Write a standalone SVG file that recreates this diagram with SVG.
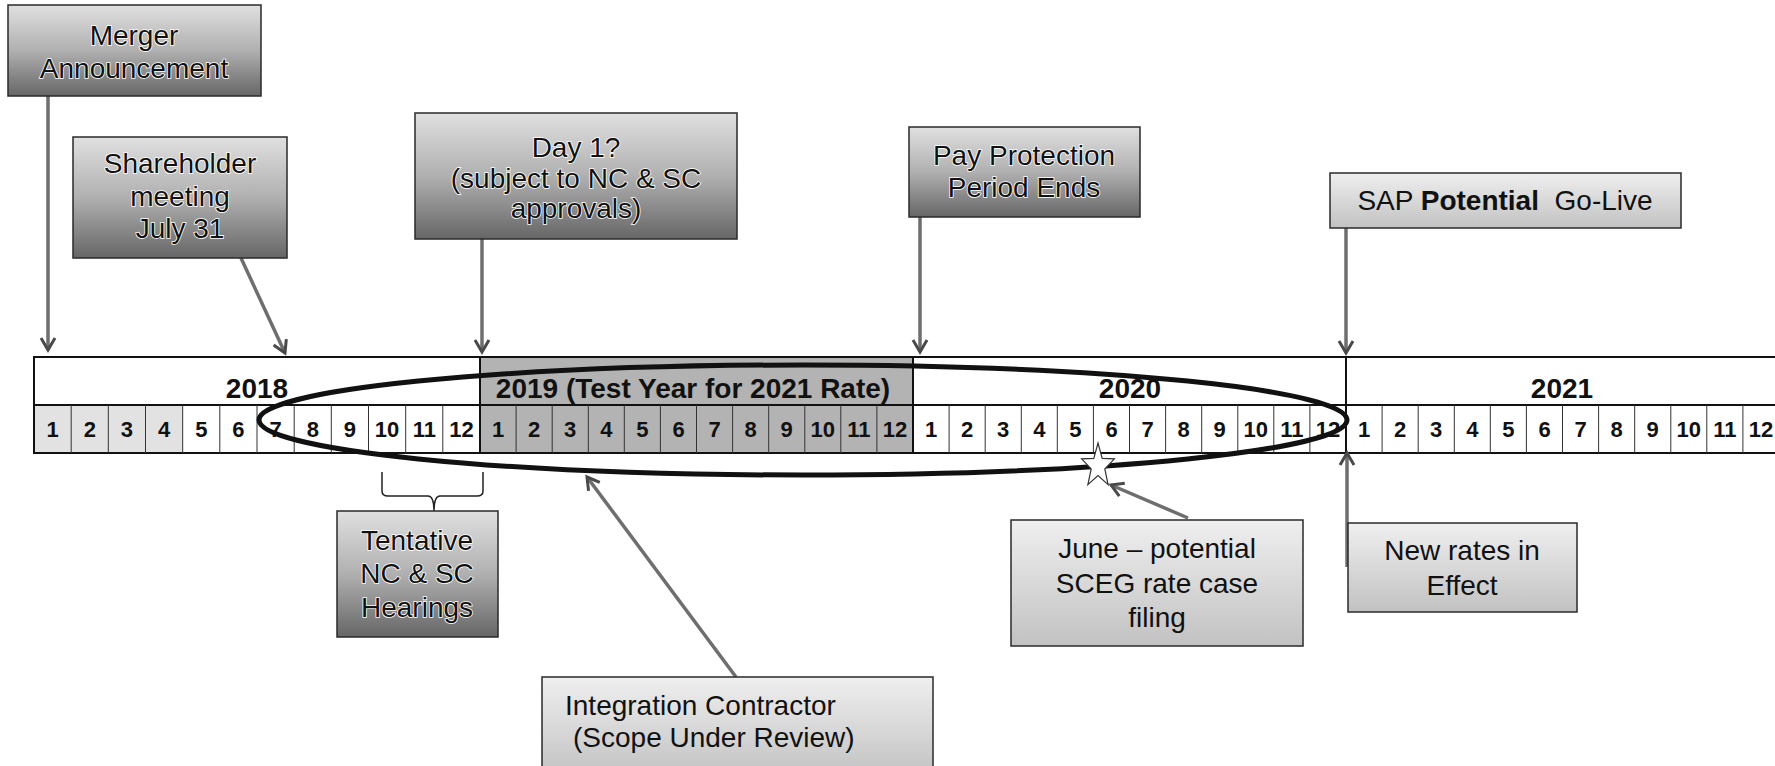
<svg xmlns="http://www.w3.org/2000/svg" width="1775" height="766" viewBox="0 0 1775 766">
<style>
.bx{stroke:#2a2a2a;stroke-width:1.5}
.dk{fill:url(#gDark)}
.lt{fill:url(#gLight)}
.t{font-family:"Liberation Sans",Arial,sans-serif;font-size:28px;fill:#111;text-anchor:middle}
.th{stroke:#fff;stroke-width:1.6;paint-order:stroke}
.yr{font-family:"Liberation Sans",Arial,sans-serif;font-size:28px;font-weight:bold;fill:#111;text-anchor:middle}
.mo{font-family:"Liberation Sans",Arial,sans-serif;font-size:22px;font-weight:bold;fill:#111;text-anchor:middle}
.grid{stroke:#333;stroke-width:1;fill:none}
.edge{stroke:#111;stroke-width:2;fill:none}
.con{stroke:#6e6e6e;stroke-width:3.5;fill:none;marker-end:url(#arr)}
</style>
<defs>
<linearGradient id="gDark" x1="0" y1="0" x2="0" y2="1">
<stop offset="0" stop-color="#e0e0e0"/>
<stop offset="0.5" stop-color="#b0b0b0"/>
<stop offset="1" stop-color="#666"/>
</linearGradient>
<linearGradient id="gLight" x1="0" y1="0" x2="0" y2="1">
<stop offset="0" stop-color="#efefef"/>
<stop offset="1" stop-color="#c2c2c2"/>
</linearGradient>
<marker id="arr" markerUnits="userSpaceOnUse" markerWidth="20" markerHeight="20" refX="14" refY="9" orient="auto">
<path d="M2,2 L14,9 L2,16" fill="none" stroke="#4a4a4a" stroke-width="3"/>
</marker>
</defs>

<g id="timeline">
<rect x="480" y="357" width="433" height="96" fill="#b3b3b3"/>
<rect x="34" y="405" width="149" height="48" fill="#e2e2e2"/>
<rect x="34" y="357" width="1745" height="96" class="edge"/>
<line x1="34" y1="405" x2="1779" y2="405" class="edge"/>
<line x1="480" y1="357" x2="480" y2="453" class="edge"/>
<line x1="913" y1="357" x2="913" y2="453" class="edge"/>
<line x1="1346" y1="357" x2="1346" y2="453" class="edge"/>
<g class="grid">
<path d="M71.2,405V453M108.3,405V453M145.5,405V453M182.7,405V453M219.8,405V453M257,405V453M294.2,405V453M331.3,405V453M368.5,405V453M405.7,405V453M442.8,405V453"/>
<path d="M516.1,405V453M552.2,405V453M588.3,405V453M624.3,405V453M660.4,405V453M696.5,405V453M732.6,405V453M768.7,405V453M804.8,405V453M840.8,405V453M876.9,405V453"/>
<path d="M949.1,405V453M985.2,405V453M1021.3,405V453M1057.3,405V453M1093.4,405V453M1129.5,405V453M1165.6,405V453M1201.7,405V453M1237.8,405V453M1273.8,405V453M1309.9,405V453"/>
<path d="M1382.1,405V453M1418.2,405V453M1454.3,405V453M1490.3,405V453M1526.4,405V453M1562.5,405V453M1598.6,405V453M1634.7,405V453M1670.8,405V453M1706.8,405V453M1742.9,405V453"/>
</g>
<text class="yr" x="257" y="398">2018</text>
<text class="yr" x="693" y="398">2019 (Test Year for 2021 Rate)</text>
<text class="yr" x="1130" y="398">2020</text>
<text class="yr" x="1562" y="398">2021</text>
<g class="mo">
<text x="52.6" y="437">1</text><text x="89.8" y="437">2</text><text x="126.9" y="437">3</text><text x="164.1" y="437">4</text><text x="201.3" y="437">5</text><text x="238.4" y="437">6</text><text x="275.6" y="437">7</text><text x="312.8" y="437">8</text><text x="349.9" y="437">9</text><text x="387.1" y="437">10</text><text x="424.3" y="437">11</text><text x="461.4" y="437">12</text>
<text x="498" y="437">1</text><text x="534.1" y="437">2</text><text x="570.2" y="437">3</text><text x="606.3" y="437">4</text><text x="642.4" y="437">5</text><text x="678.5" y="437">6</text><text x="714.5" y="437">7</text><text x="750.6" y="437">8</text><text x="786.7" y="437">9</text><text x="822.8" y="437">10</text><text x="858.9" y="437">11</text><text x="895" y="437">12</text>
<text x="931" y="437">1</text><text x="967.1" y="437">2</text><text x="1003.2" y="437">3</text><text x="1039.3" y="437">4</text><text x="1075.4" y="437">5</text><text x="1111.5" y="437">6</text><text x="1147.5" y="437">7</text><text x="1183.6" y="437">8</text><text x="1219.7" y="437">9</text><text x="1255.8" y="437">10</text><text x="1291.9" y="437">11</text><text x="1328" y="437">12</text>
<text x="1364" y="437">1</text><text x="1400.1" y="437">2</text><text x="1436.2" y="437">3</text><text x="1472.3" y="437">4</text><text x="1508.4" y="437">5</text><text x="1544.5" y="437">6</text><text x="1580.5" y="437">7</text><text x="1616.6" y="437">8</text><text x="1652.7" y="437">9</text><text x="1688.8" y="437">10</text><text x="1724.9" y="437">11</text><text x="1761" y="437">12</text>
</g>
</g>

<g id="integration-ellipse">
<ellipse cx="803" cy="420" rx="544" ry="55" fill="none" stroke="#111" stroke-width="5"/>
</g>

<g id="june-star">
<polygon points="1098,443 1102.2,458.3 1114.4,458.9 1104.8,468.9 1108.1,484.6 1098,475.5 1087.9,484.6 1091.2,468.9 1081.6,458.9 1093.8,458.3" fill="#fff" stroke="#333" stroke-width="1.2"/>
</g>

<g id="hearings-brace">
<path d="M382,472 V491 Q382,496 388,496 H428 Q434,496 434,511 Q434,496 440,496 H477 Q483,496 483,491 V472" fill="none" stroke="#222" stroke-width="1.5"/>
</g>

<g id="connectors">
<line class="con" x1="48" y1="96" x2="48" y2="350"/>
<line class="con" x1="241" y1="258" x2="285" y2="353"/>
<line class="con" x1="482" y1="239" x2="482" y2="352"/>
<line class="con" x1="920" y1="217" x2="920" y2="352"/>
<line class="con" x1="1346" y1="228" x2="1346" y2="353"/>
<line class="con" x1="736" y1="677" x2="587" y2="477"/>
<line class="con" x1="1188" y1="518" x2="1111" y2="485"/>
<line class="con" x1="1347" y1="567" x2="1347" y2="453"/>
</g>

<g id="merger">
<rect class="bx dk" x="8" y="5" width="253" height="91"/>
<text class="t th" x="134" y="45">Merger</text>
<text class="t th" x="134" y="78">Announcement</text>
</g>

<g id="shareholder">
<rect class="bx dk" x="73" y="137" width="214" height="121"/>
<text class="t th" x="180" y="173">Shareholder</text>
<text class="t th" x="180" y="206">meeting</text>
<text class="t th" x="180" y="238">July 31</text>
</g>

<g id="day1">
<rect class="bx dk" x="415" y="113" width="322" height="126"/>
<text class="t th" x="576" y="157">Day 1?</text>
<text class="t th" x="576" y="188">(subject to NC &amp; SC</text>
<text class="t th" x="576" y="218">approvals)</text>
</g>

<g id="pay-protection">
<rect class="bx dk" x="909" y="127" width="231" height="90"/>
<text class="t th" x="1024" y="165">Pay Protection</text>
<text class="t th" x="1024" y="197">Period Ends</text>
</g>

<g id="sap">
<rect class="bx lt" x="1330" y="173" width="351" height="55"/>
<text class="t" x="1505" y="210">SAP <tspan font-weight="bold">Potential</tspan>&#160; Go-Live</text>
</g>

<g id="tentative">
<rect class="bx dk" x="337" y="511" width="161" height="126"/>
<text class="t th" x="417" y="550">Tentative</text>
<text class="t th" x="417" y="583">NC &amp; SC</text>
<text class="t th" x="417" y="617">Hearings</text>
</g>

<g id="integration">
<rect class="bx lt" x="542" y="677" width="391" height="100"/>
<text class="t" x="565" y="715" style="text-anchor:start">Integration Contractor</text>
<text class="t" x="573" y="747" style="text-anchor:start">(Scope Under Review)</text>
</g>

<g id="june">
<rect class="bx lt" x="1011" y="520" width="292" height="126"/>
<text class="t" x="1157" y="558">June – potential</text>
<text class="t" x="1157" y="593">SCEG rate case</text>
<text class="t" x="1157" y="627">filing</text>
</g>

<g id="new-rates">
<rect class="bx lt" x="1348" y="523" width="229" height="89"/>
<text class="t" x="1462" y="560">New rates in</text>
<text class="t" x="1462" y="595">Effect</text>
</g>
</svg>
